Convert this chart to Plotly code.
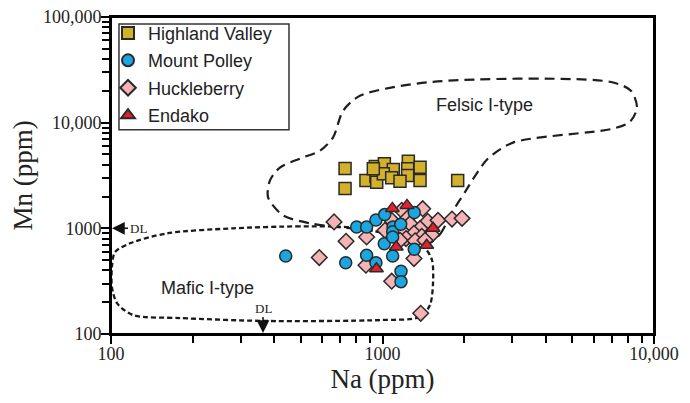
import math
import plotly.graph_objects as go

# ---- data ----
hv_na = [728, 728, 941, 1016, 1096, 1245, 1375, 1238, 1238, 869, 946, 952, 1007, 1081, 1160, 1375, 925, 1892]
hv_mn = [3681, 2385, 3846, 4076, 3603, 4314, 3788, 3657, 3162, 2837, 3094, 2734, 3280, 3009, 2795, 2837, 3657, 2837]

mp_na = [440, 732, 874, 946, 1090, 1015, 1309, 1170, 1170, 803, 874, 946, 1019, 1309, 1093, 1090, 1090, 1167]
mp_mn = [548, 473, 556, 473, 548, 714, 634, 393, 313, 1029, 1029, 1197, 1349, 1410, 1029, 927, 828, 1091]

hk_na = [663, 585, 734, 874, 869, 1081, 1383, 1306, 1406, 1177, 1238, 1467, 1601, 1803, 1963, 1081,
         1021, 1177, 1263, 1375, 1306, 1221, 1395, 1518, 1160, 1318, 1434]
hk_mn = [1151, 529, 754, 828, 448, 316, 157, 518, 1534, 1479, 1251, 1164, 1190, 1224, 1243, 1190,
         958, 958, 1107, 994, 897, 800, 841, 872, 771, 762, 771]

en_na = [1087, 1231, 1535, 1124, 1455, 950]
en_mn = [1544, 1648, 1000, 666, 691, 415]

# field outlines
felsic_na = [1458, 1628, 1803, 2031, 2209, 2447, 3024, 7063, 8157, 8656, 8227, 6885, 1535, 826, 716,
             657, 589, 497, 419, 385, 379, 430, 541, 698, 915, 1160, 1458]
felsic_mn = [707, 878, 1416, 2283, 3231, 4575, 6475, 8777, 10214, 13852, 20040, 24370, 24370, 17974, 12980,
             7220, 5442, 4575, 3763, 2837, 1961, 1327, 1115, 1022, 958, 805, 707]

mafic_na = [759, 497, 281, 161, 117.5, 103.4, 100.8, 100.8, 105.2, 120.5, 180, 363, 979, 1375, 1496,
            1535, 1522, 1434, 1210, 939, 759]
mafic_mn = [1022, 1044, 1000, 897, 722, 594, 429, 278, 196, 151, 141.6, 133, 135.5, 145, 188,
            303, 499, 648, 805, 937, 1022]

na_dl = 363
mn_dl = 1000

x_ticks = [100, 1000, 10000]
x_ticktext = ["100", "1000", "10,000"]
y_ticks = [100, 1000, 10000, 100000]
y_ticktext = ["100", "1000", "10,000", "100,000"]

series_names = ["Highland Valley", "Mount Polley", "Huckleberry", "Endako"]

SERIF = "Liberation Serif"
SANS = "Liberation Sans"

fig = go.Figure()

fig.add_trace(go.Scatter(x=felsic_na, y=felsic_mn, mode="lines", showlegend=False, hoverinfo="skip",
                         line=dict(color="#1e1e1e", width=2.2, dash="10px,6px", shape="spline", smoothing=0.8)))
fig.add_trace(go.Scatter(x=mafic_na, y=mafic_mn, mode="lines", showlegend=False, hoverinfo="skip",
                         line=dict(color="#1a1a1a", width=2.3, dash="5px,3px", shape="spline", smoothing=0.8)))

edge = dict(color="#2a2a2a", width=1.5)
fig.add_trace(go.Scatter(x=hv_na, y=hv_mn, mode="markers", name=series_names[0], legendrank=1, legendgroup="a",
                         marker=dict(symbol="square", size=12, color="#D4B12A", line=edge)))
fig.add_trace(go.Scatter(x=hk_na, y=hk_mn, mode="markers", name=series_names[2], legendrank=3, legendgroup="c",
                         marker=dict(symbol="diamond", size=12, color="#F5B3B5", line=edge)))
fig.add_trace(go.Scatter(x=mp_na, y=mp_mn, mode="markers", name=series_names[1], legendrank=2, legendgroup="b",
                         marker=dict(symbol="circle", size=12, color="#1AA7E1", line=edge)))
fig.add_trace(go.Scatter(x=en_na, y=en_mn, mode="markers", name=series_names[3], legendrank=4, legendgroup="d",
                         marker=dict(symbol="triangle-up", size=12, color="#E8202A", line=edge)))

minor_vals = [v * m for v in (100, 1000, 10000) for m in range(2, 10)]

axis_common = dict(type="log", showgrid=False, zeroline=False, showline=True, linewidth=2, linecolor="black",
                   mirror=True, ticks="outside", ticklen=8, tickwidth=2, tickcolor="black", automargin=False,
                   ticklabeloverflow="allow", tickfont=dict(family=SERIF, size=18, color="#222"))

fig.update_layout(
    width=690, height=403,
    margin=dict(l=103, r=44, t=8, b=77),
    paper_bgcolor="white", plot_bgcolor="white",
    xaxis=dict(**axis_common, range=[2, 4], tickvals=x_ticks, ticktext=x_ticktext, ticklabelstandoff=-6,
               minor=dict(ticks="outside", ticklen=7, tickwidth=1.5, tickcolor="black", tickvals=minor_vals, showgrid=False),
               title=dict(text="Na (ppm)", font=dict(family=SERIF, size=27, color="#222"), standoff=6)),
    yaxis=dict(**axis_common, range=[2, 5], tickvals=y_ticks, ticktext=y_ticktext, ticklabelstandoff=-4,
               minor=dict(ticks="outside", ticklen=7, tickwidth=1.5, tickcolor="black", tickvals=minor_vals + [v * 10 for v in minor_vals[-8:]], showgrid=False),
               title=dict(text="Mn (ppm)", font=dict(family=SERIF, size=27, color="#222"), standoff=10)),
    legend=dict(x=-0.0055, y=1.004, xanchor="left", yanchor="top", bgcolor="rgba(0,0,0,0)",
                borderwidth=0, font=dict(family=SANS, size=18, color="#222"),
                traceorder="grouped", tracegroupgap=1, itemsizing="constant"),
    showlegend=True,
)

# plot frame and legend frame
fig.add_shape(type="rect", xref="paper", yref="paper", x0=0, x1=1, y0=0, y1=1,
              line=dict(color="black", width=2), fillcolor="rgba(0,0,0,0)")
fig.add_shape(type="rect", xref="paper", yref="paper", x0=0.0147, x1=0.3278, y0=0.6447, y1=0.978,
              line=dict(color="#333", width=1.5), fillcolor="rgba(0,0,0,0)")

fig.add_annotation(x=math.log10(2366), y=math.log10(14790), text="Felsic I-type", showarrow=False,
                   font=dict(family=SANS, size=18, color="#222"))
fig.add_annotation(x=math.log10(226), y=math.log10(272), text="Mafic I-type", showarrow=False,
                   font=dict(family=SANS, size=18, color="#222"))
fig.add_annotation(x=2, y=math.log10(mn_dl), text="DL", showarrow=True, ax=27, ay=0,
                   arrowhead=2, arrowsize=1.7, arrowwidth=1.5, arrowcolor="#111", standoff=1,
                   font=dict(family=SERIF, size=13, color="#222"))
fig.add_annotation(x=math.log10(na_dl), y=2, text="DL", showarrow=True, ax=0, ay=-26,
                   arrowhead=2, arrowsize=1.7, arrowwidth=1.5, arrowcolor="#111", standoff=1,
                   font=dict(family=SERIF, size=13, color="#222"))

fig.write_html("out.html")
